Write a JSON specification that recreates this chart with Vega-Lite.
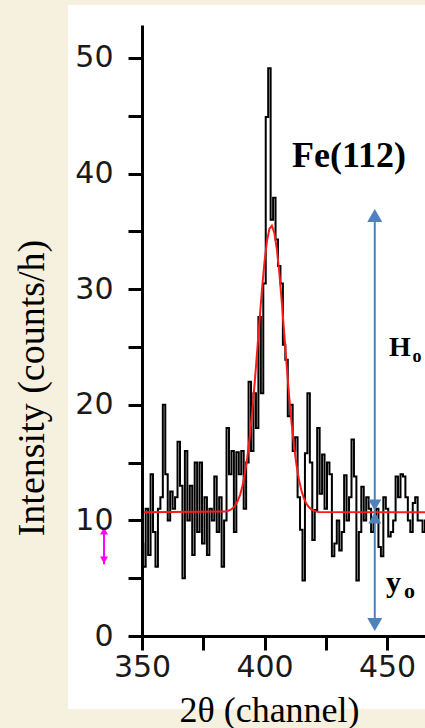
{
  "$schema": "https://vega.github.io/schema/vega-lite/v6.json",
  "width": 283,
  "height": 611,
  "autosize": {"type": "none"},
  "padding": {"left": 142, "top": 25, "right": 0, "bottom": 92},
  "background": "#f6f0df",
  "config": {"view": {"stroke": null}, "axis": {"grid": false}},
  "datasets": {
    "counts": [
      {"ch":350,"v":8},{"ch":351,"v":6},{"ch":352,"v":11},{"ch":353,"v":7},{"ch":354,"v":14},
      {"ch":355,"v":9},{"ch":356,"v":6},{"ch":357,"v":11},{"ch":358,"v":12},{"ch":359,"v":20},
      {"ch":360,"v":14},{"ch":361,"v":10},{"ch":362,"v":12.5},{"ch":363,"v":11},{"ch":364,"v":12},
      {"ch":365,"v":16.8},{"ch":366,"v":13},{"ch":367,"v":5},{"ch":368,"v":16},{"ch":369,"v":10},
      {"ch":370,"v":13},{"ch":371,"v":7},{"ch":372,"v":15},{"ch":373,"v":9},{"ch":374,"v":15},
      {"ch":375,"v":8},{"ch":376,"v":12},{"ch":377,"v":7},{"ch":378,"v":11},{"ch":379,"v":10},
      {"ch":380,"v":13.8},{"ch":381,"v":9},{"ch":382,"v":12},{"ch":383,"v":6},{"ch":384,"v":10},
      {"ch":385,"v":18},{"ch":386,"v":14},{"ch":387,"v":16},{"ch":388,"v":9},{"ch":389,"v":15.9},
      {"ch":390,"v":14},{"ch":391,"v":16},{"ch":392,"v":11},{"ch":393,"v":15},{"ch":394,"v":22},
      {"ch":395,"v":16},{"ch":396,"v":21},{"ch":397,"v":18},{"ch":398,"v":27.6},{"ch":399,"v":21},
      {"ch":400,"v":30.5},{"ch":401,"v":44.9},{"ch":402,"v":49.1},{"ch":403,"v":36},{"ch":404,"v":37.9},
      {"ch":405,"v":34.3},{"ch":406,"v":32},{"ch":407,"v":30.5},{"ch":408,"v":25.2},{"ch":409,"v":23.9},
      {"ch":410,"v":19},{"ch":411,"v":20},{"ch":412,"v":16},{"ch":413,"v":17.2},{"ch":414,"v":12},
      {"ch":415,"v":9.2},{"ch":416,"v":4.8},{"ch":417,"v":15.8},{"ch":418,"v":21},{"ch":419,"v":15},
      {"ch":420,"v":8.3},{"ch":421,"v":10.9},{"ch":422,"v":18},{"ch":423,"v":12.3},{"ch":424,"v":15.7},
      {"ch":425,"v":11},{"ch":426,"v":15},{"ch":427,"v":14},{"ch":428,"v":6.9},{"ch":429,"v":8},
      {"ch":430,"v":10},{"ch":431,"v":7.4},{"ch":432,"v":9},{"ch":433,"v":13.9},{"ch":434,"v":10},
      {"ch":435,"v":12},{"ch":436,"v":17},{"ch":437,"v":13.8},{"ch":438,"v":4.8},{"ch":439,"v":9},
      {"ch":440,"v":12.9},{"ch":441,"v":10},{"ch":442,"v":12},{"ch":443,"v":11},{"ch":444,"v":9},
      {"ch":445,"v":10},{"ch":446,"v":11},{"ch":447,"v":7.7},{"ch":448,"v":6.9},{"ch":449,"v":12},
      {"ch":450,"v":11},{"ch":451,"v":8.6},{"ch":452,"v":9},{"ch":453,"v":10},{"ch":454,"v":13.8},
      {"ch":455,"v":12},{"ch":456,"v":14},{"ch":457,"v":13.8},{"ch":458,"v":12},{"ch":459,"v":10},
      {"ch":460,"v":9},{"ch":461,"v":11.5},{"ch":462,"v":12},{"ch":463,"v":10},{"ch":464,"v":10},
      {"ch":465,"v":9},{"ch":466,"v":10}
    ],
    "fit": [
      {"ch":350,"v":10.7},{"ch":384,"v":10.76},{"ch":385,"v":10.81},{"ch":386,"v":10.9},{"ch":387,"v":11.04},
      {"ch":388,"v":11.28},{"ch":389,"v":11.65},{"ch":390,"v":12.19},{"ch":391,"v":12.98},{"ch":392,"v":14.06},
      {"ch":393,"v":15.48},{"ch":394,"v":17.27},{"ch":395,"v":19.44},{"ch":396,"v":21.92},{"ch":397,"v":24.63},
      {"ch":398,"v":27.41},{"ch":399,"v":30.06},{"ch":400,"v":32.38},{"ch":401,"v":34.16},{"ch":402,"v":35.23},
      {"ch":403,"v":35.48},{"ch":404,"v":34.89},{"ch":405,"v":33.52},{"ch":406,"v":31.51},{"ch":407,"v":29.03},
      {"ch":408,"v":26.3},{"ch":409,"v":23.53},{"ch":410,"v":20.89},{"ch":411,"v":18.53},{"ch":412,"v":16.51},
      {"ch":413,"v":14.87},{"ch":414,"v":13.59},{"ch":415,"v":12.63},{"ch":416,"v":11.95},{"ch":417,"v":11.48},
      {"ch":418,"v":11.17},{"ch":419,"v":10.98},{"ch":420,"v":10.86},{"ch":421,"v":10.78},{"ch":422,"v":10.72},
      {"ch":466,"v":10.7}
    ]
  },
  "layer": [
    {
      "data": {"values": [{}]},
      "mark": {"type": "rect", "color": "#ffffff", "clip": false},
      "encoding": {
        "x": {"datum": 319.8, "type": "quantitative"},
        "x2": {"datum": 480},
        "y": {"datum": 54.58, "type": "quantitative"},
        "y2": {"datum": -6.31}
      }
    },
    {
      "data": {"name": "counts"},
      "mark": {"type": "line", "interpolate": "step", "color": "#000000", "strokeWidth": 2, "clip": true},
      "encoding": {
        "x": {
          "field": "ch", "type": "quantitative",
          "scale": {"domain": [350, 465.5], "nice": false, "zero": false},
          "axis": {
            "zindex": 1,
            "values": [350, 375, 400, 425, 450],
            "labelExpr": "datum.value % 50 === 0 ? datum.label : ''",
            "domainColor": "#000000", "domainWidth": 3,
            "tickColor": "#000000", "tickWidth": 3, "tickSize": 14,
            "encode": {"ticks": {"update": {"y2": [{"test": "datum.value % 50 === 0", "value": 14}, {"value": 7}]}}},
            "labelFont": "DejaVu Sans", "labelFontSize": 30, "labelColor": "#1a1a1a",
            "labelPadding": 2, "labelFlush": false, "labelOverlap": false,
            "title": "2θ (channel)", "titleFont": "Liberation Serif", "titleFontSize": 36,
            "titleFontWeight": "normal", "titleColor": "#000000",
            "titleX": 127, "titleY": 85, "titleBaseline": "alphabetic", "titleAlign": "center"
          }
        },
        "y": {
          "field": "v", "type": "quantitative",
          "scale": {"domain": [0, 52.85], "nice": false, "zero": false},
          "axis": {
            "zindex": 1,
            "values": [0, 5, 10, 15, 20, 25, 30, 35, 40, 45, 50],
            "labelExpr": "datum.value % 10 === 0 ? datum.label : ''",
            "domainColor": "#000000", "domainWidth": 3,
            "tickColor": "#000000", "tickWidth": 3, "tickSize": 14,
            "encode": {"ticks": {"update": {"x2": [{"test": "datum.value % 10 === 0", "value": -14}, {"value": -7}]}}},
            "labelFont": "DejaVu Sans", "labelFontSize": 30, "labelColor": "#1a1a1a",
            "labelPadding": 15, "labelFlush": false, "labelOverlap": false, "labelBaseline": "middle",
            "title": "Intensity (counts/h)", "titleFont": "Liberation Serif", "titleFontSize": 38,
            "titleFontWeight": "normal", "titleColor": "#000000", "titleAngle": -90,
            "titleX": -99, "titleY": 362.5, "titleBaseline": "alphabetic", "titleAlign": "center"
          }
        }
      }
    },
    {
      "data": {"name": "fit"},
      "mark": {"type": "line", "color": "#ff1a1a", "strokeWidth": 2, "clip": true},
      "encoding": {
        "x": {"field": "ch", "type": "quantitative"},
        "y": {"field": "v", "type": "quantitative"}
      }
    },
    {
      "data": {"values": [{}]},
      "mark": {"type": "rule", "color": "#4f81bd", "strokeWidth": 2},
      "encoding": {
        "x": {"datum": 445, "type": "quantitative"},
        "y": {"datum": 0.99, "type": "quantitative"},
        "y2": {"datum": 36.38}
      }
    },
    {
      "data": {"values": [{}]},
      "mark": {"type": "point", "shape": "triangle-up", "filled": true, "size": 225, "color": "#4f81bd", "opacity": 1},
      "encoding": {
        "x": {"datum": 445, "type": "quantitative"},
        "y": {"datum": 36.38, "type": "quantitative"}
      }
    },
    {
      "data": {"values": [{}]},
      "mark": {"type": "point", "shape": "triangle-down", "filled": true, "size": 169, "color": "#4f81bd", "opacity": 1},
      "encoding": {
        "x": {"datum": 445, "type": "quantitative"},
        "y": {"datum": 11.33, "type": "quantitative"}
      }
    },
    {
      "data": {"values": [{}]},
      "mark": {"type": "point", "shape": "triangle-up", "filled": true, "size": 169, "color": "#4f81bd", "opacity": 1},
      "encoding": {
        "x": {"datum": 445, "type": "quantitative"},
        "y": {"datum": 10.21, "type": "quantitative"}
      }
    },
    {
      "data": {"values": [{}]},
      "mark": {"type": "point", "shape": "triangle-down", "filled": true, "size": 225, "color": "#4f81bd", "opacity": 1},
      "encoding": {
        "x": {"datum": 445, "type": "quantitative"},
        "y": {"datum": 0.99, "type": "quantitative"}
      }
    },
    {
      "data": {"values": [{}]},
      "mark": {"type": "rule", "color": "#ff00ff", "strokeWidth": 2, "clip": false},
      "encoding": {
        "x": {"datum": 334.5, "type": "quantitative"},
        "y": {"datum": 9.3, "type": "quantitative"},
        "y2": {"datum": 6.2}
      }
    },
    {
      "data": {"values": [{}]},
      "mark": {"type": "point", "shape": "triangle-up", "filled": true, "size": 64, "color": "#ff00ff", "opacity": 1, "clip": false},
      "encoding": {
        "x": {"datum": 334.5, "type": "quantitative"},
        "y": {"datum": 9.08, "type": "quantitative"}
      }
    },
    {
      "data": {"values": [{}]},
      "mark": {"type": "point", "shape": "triangle-down", "filled": true, "size": 64, "color": "#ff00ff", "opacity": 1, "clip": false},
      "encoding": {
        "x": {"datum": 334.5, "type": "quantitative"},
        "y": {"datum": 6.57, "type": "quantitative"}
      }
    },
    {
      "data": {"values": [{}]},
      "mark": {"type": "text", "text": "Fe(112)", "font": "Liberation Serif", "fontWeight": "bold", "fontSize": 36, "align": "left", "baseline": "alphabetic", "color": "#000000"},
      "encoding": {
        "x": {"datum": 411.2, "type": "quantitative"},
        "y": {"datum": 40.57, "type": "quantitative"}
      }
    },
    {
      "data": {"values": [{}]},
      "mark": {"type": "text", "text": "H", "font": "Liberation Serif", "fontWeight": "bold", "fontSize": 28, "align": "left", "baseline": "alphabetic", "color": "#000000"},
      "encoding": {
        "x": {"datum": 450.8, "type": "quantitative"},
        "y": {"datum": 24.22, "type": "quantitative"}
      }
    },
    {
      "data": {"values": [{}]},
      "mark": {"type": "text", "text": "o", "font": "Liberation Serif", "fontWeight": "bold", "fontSize": 18, "align": "left", "baseline": "alphabetic", "color": "#000000"},
      "encoding": {
        "x": {"datum": 460.4, "type": "quantitative"},
        "y": {"datum": 23.7, "type": "quantitative"}
      }
    },
    {
      "data": {"values": [{}]},
      "mark": {"type": "text", "text": "y", "font": "Liberation Serif", "fontWeight": "bold", "fontSize": 30, "align": "left", "baseline": "alphabetic", "color": "#000000"},
      "encoding": {
        "x": {"datum": 449.6, "type": "quantitative"},
        "y": {"datum": 3.81, "type": "quantitative"}
      }
    },
    {
      "data": {"values": [{}]},
      "mark": {"type": "text", "text": "o", "font": "Liberation Serif", "fontWeight": "bold", "fontSize": 22, "align": "left", "baseline": "alphabetic", "color": "#000000"},
      "encoding": {
        "x": {"datum": 456.9, "type": "quantitative"},
        "y": {"datum": 3.29, "type": "quantitative"}
      }
    }
  ]
}
